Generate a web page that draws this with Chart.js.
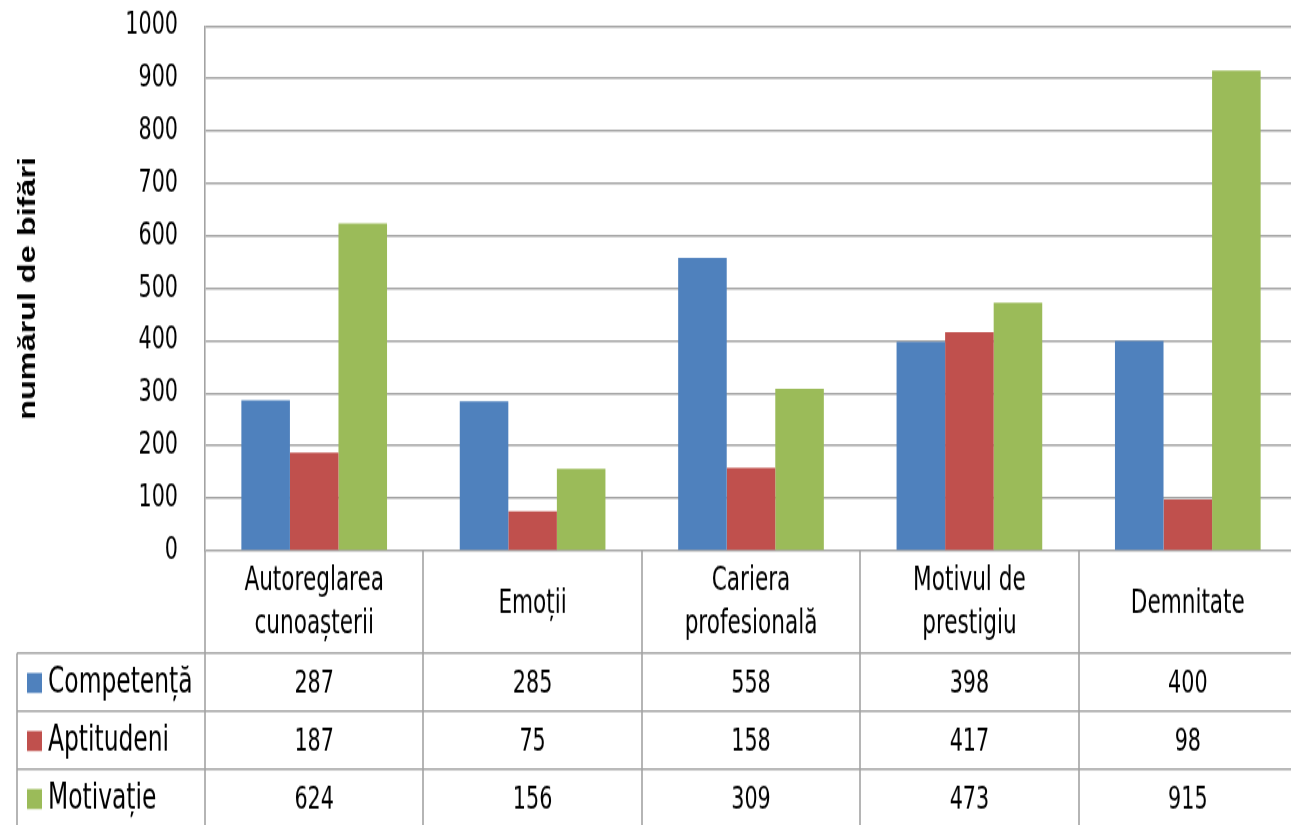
<!DOCTYPE html>
<html>
<head>
<meta charset="utf-8">
<script src="https://cdn.jsdelivr.net/npm/chart.js@4"></script>
<style>
  html, body { margin: 0; padding: 0; background: #fff; overflow: hidden; }
  #wrap { width: 1291px; height: 825px; overflow: hidden; }
  /* the reference is a tall, narrow-looking render: draw at 611px high and stretch */
  #box { width: 1297px; height: 611px; transform: scaleY(1.35); transform-origin: 0 0; }
</style>
</head>
<body>
<div id="wrap"><div id="box"><canvas id="chart"></canvas></div></div>
<script>
const categories = [
  ["Autoreglarea", "cunoașterii"],
  ["Emoții"],
  ["Cariera", "profesională"],
  ["Motivul de", "prestigiu"],
  ["Demnitate"]
];
const seriesNames = ["Competență", "Aptitudeni", "Motivație"];
const competenta = [287, 285, 558, 398, 400];
const aptitudeni = [187, 75, 158, 417, 98];
const motivatie = [624, 156, 309, 473, 915];
const yTicks = [0, 100, 200, 300, 400, 500, 600, 700, 800, 900, 1000];
const colors = ["#4F81BD", "#C0504D", "#9BBB59"];

const NARROW = '"DejaVu Sans Condensed", "Liberation Sans Narrow", sans-serif';
const lineCol = "#a3a3a3";

// data table under the plot, drawn from the same arrays
const tablePlugin = {
  id: "dataTable",
  afterDraw(chart) {
    const ctx = chart.ctx;
    const area = chart.chartArea;
    const x = chart.scales.x;
    const n = categories.length;
    const colW = (area.right - area.left) / n;
    const headTop = area.bottom;
    const headBottom = 483.7;
    const rowH = 43;
    const tableLeft = 17;
    const tableBottom = 620;
    const allSeries = [competenta, aptitudeni, motivatie];

    ctx.save();
    ctx.strokeStyle = lineCol;
    ctx.lineWidth = 1.6;

    // vertical lines
    for (let i = 0; i <= n; i++) {
      const lx = Math.round(area.left + i * colW);
      ctx.beginPath();
      ctx.moveTo(lx, headTop);
      ctx.lineTo(lx, tableBottom);
      ctx.stroke();
    }
    ctx.beginPath();
    ctx.moveTo(tableLeft, headBottom);
    ctx.lineTo(tableLeft, tableBottom);
    ctx.stroke();

    // horizontal lines
    for (let r = 0; r < 3; r++) {
      const ly = headBottom + r * rowH;
      ctx.beginPath();
      ctx.moveTo(tableLeft, ly);
      ctx.lineTo(area.right, ly);
      ctx.stroke();
    }

    ctx.fillStyle = "#000";
    ctx.textAlign = "center";
    ctx.textBaseline = "alphabetic";
    ctx.font = "24px " + NARROW;

    // header labels
    const mid = (headTop + headBottom) / 2;
    for (let i = 0; i < n; i++) {
      const cx = x.getPixelForValue(i);
      const lines = categories[i];
      if (lines.length == 1) {
        ctx.fillText(lines[0], cx, mid + 8);
      } else {
        ctx.fillText(lines[0], cx, mid - 8.5);
        ctx.fillText(lines[1], cx, mid + 23.4);
      }
    }

    // rows
    for (let r = 0; r < allSeries.length; r++) {
      const top = headBottom + r * rowH;
      const base = top + 29;
      ctx.textAlign = "center";
      ctx.font = "23px " + NARROW;
      for (let i = 0; i < n; i++) {
        ctx.fillText(String(allSeries[r][i]), x.getPixelForValue(i), base);
      }
      ctx.fillStyle = colors[r];
      ctx.fillRect(27, top + 14.8, 15, 14.8);
      ctx.fillStyle = "#000";
      ctx.textAlign = "left";
      ctx.font = "26px " + NARROW;
      ctx.fillText(seriesNames[r], 48, base);
    }
    ctx.restore();
  }
};

const chart = new Chart(document.getElementById("chart"), {
  type: "bar",
  data: {
    labels: categories.map(c => c.join(" ")),
    datasets: [
      { label: seriesNames[0], data: competenta, backgroundColor: colors[0] },
      { label: seriesNames[1], data: aptitudeni, backgroundColor: colors[1] },
      { label: seriesNames[2], data: motivatie, backgroundColor: colors[2] }
    ]
  },
  options: {
    responsive: true,
    maintainAspectRatio: false,
    animation: false,
    layout: { padding: { top: 19.3, right: 0, bottom: 203, left: 0 } },
    datasets: { bar: { categoryPercentage: 0.667, barPercentage: 1.0, borderWidth: 0 } },
    scales: {
      x: { display: false },
      y: {
        min: 0,
        max: 1000,
        afterBuildTicks: (scale) => { scale.ticks = yTicks.map(v => ({ value: v })); },
        afterFit: (scale) => { scale.width = 205; },
        // invisible tick marks give the label gap without padding the top
        grid: { color: lineCol, lineWidth: 1.6, drawTicks: true, tickLength: 27, tickColor: "rgba(0,0,0,0)" },
        border: { display: true, color: lineCol, width: 1.6 },
        ticks: {
          padding: 0,
          color: "#000",
          font: { family: NARROW, size: 23 },
          callback: (v) => String(v)
        },
        title: {
          display: true,
          text: "numărul de bifări",
          color: "#000",
          padding: { top: 13.6, bottom: 0 },
          font: { family: "Liberation Sans, Arial, sans-serif", size: 24, weight: "bold" }
        }
      }
    },
    plugins: { legend: { display: false }, tooltip: { enabled: false } }
  },
  plugins: [tablePlugin]
});
</script>
</body>
</html>
